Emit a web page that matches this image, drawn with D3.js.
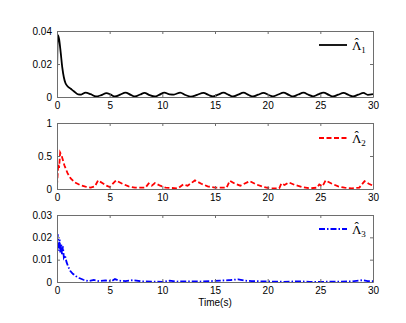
<!DOCTYPE html>
<html>
<head>
<meta charset="utf-8">
<script src="https://cdn.jsdelivr.net/npm/d3@7"></script>
<style>
  body { margin: 0; background: #fff; }
  text { font-family: "Liberation Sans", Arial, sans-serif; font-size: 10px; fill: #000; }
  .leg { font-family: "Liberation Serif", "Times New Roman", serif; font-size: 13px; font-style: normal; }
</style>
</head>
<body>
<script>
// time axis ticks
var xTicks = [0, 5, 10, 15, 20, 25, 30];

// panel 1 - Lambda hat 1
var time1 = [0,0.08,0.2,0.35,0.5,0.65,0.8,1.0,1.3,1.6,2.0,2.3,2.7,3.2,3.7,4.2,4.7,5.1,5.5,6.0,6.5,7.0,7.4,7.9,8.3,8.8,9.3,9.7,10.2,10.7,11.1,11.7,12.2,12.7,13.3,13.9,14.4,14.8,15.3,15.8,16.3,16.7,17.2,17.7,18.2,18.6,19.1,19.6,20.1,20.5,21.0,21.5,22.0,22.4,22.9,23.4,23.9,24.3,24.8,25.3,25.8,26.2,26.7,27.2,27.7,28.1,28.6,29.1,29.5,30];
var lambda1 = [0.012,0.0375,0.035,0.027,0.018,0.012,0.0085,0.0065,0.005,0.0035,0.0016,0.0015,0.0026,0.0017,0.0003,0.0011,0.0024,0.0014,0.0003,0.0014,0.0027,0.0013,0.0003,0.0015,0.0025,0.0011,0.0003,0.0013,0.0027,0.0016,0.0015,0.0027,0.0012,0.0002,0.0013,0.0025,0.0012,0.0003,0.0014,0.0026,0.0013,0.0003,0.0014,0.0026,0.0012,0.0003,0.0014,0.0025,0.0012,0.0004,0.0015,0.0027,0.0013,0.0003,0.0015,0.0026,0.0013,0.0004,0.0016,0.0027,0.0013,0.0003,0.0014,0.0025,0.0012,0.0003,0.0014,0.0025,0.0013,0.0018];
var yTicks1 = [0, 0.02, 0.04];

// panel 2 - Lambda hat 2
var time2 = [0,0.12,0.2,0.3,0.45,0.7,1.0,1.3,1.7,2.2,2.7,3.2,3.6,3.9,4.3,4.7,5.0,5.6,6.2,6.8,7.4,8.4,8.7,9.0,9.3,9.8,10.3,11.5,12.0,12.4,13.1,13.7,14.3,15.0,16.1,16.4,16.9,17.4,18.3,18.9,19.6,20.2,21.1,21.3,21.6,22.0,22.6,23.3,24.0,24.7,24.9,25.2,25.5,26.1,26.7,27.3,28.0,28.7,29.2,29.6,30];
var lambda2 = [0.05,0.38,0.32,0.55,0.5,0.36,0.24,0.16,0.1,0.06,0.035,0.02,0.04,0.13,0.09,0.05,0.03,0.13,0.08,0.04,0.02,0.02,0.085,0.05,0.09,0.05,0.02,0.01,0.07,0.05,0.13,0.08,0.04,0.02,0.02,0.125,0.08,0.05,0.12,0.07,0.03,0.01,0.01,0.085,0.06,0.1,0.06,0.03,0.01,0.02,0.07,0.04,0.13,0.08,0.04,0.02,0.01,0.02,0.12,0.08,0.05];
var yTicks2 = [0, 0.5, 1];

// panel 3 - Lambda hat 3
var time3 = [0,0.06,0.12,0.18,0.25,0.32,0.4,0.48,0.56,0.65,0.75,0.9,1.05,1.25,1.5,1.8,2.1,2.5,3.0,3.5,4.0,4.6,5.2,5.5,5.9,6.5,7.2,8.0,9.0,10.0,10.7,11.3,12.5,13.5,14.5,15.5,16.5,17.2,17.8,18.5,19.5,20.5,21.5,23.0,24.0,25.5,27.0,28.0,29.0,29.5,30];
var lambda3 = [0.015,0.0215,0.018,0.014,0.019,0.013,0.017,0.012,0.016,0.011,0.012,0.009,0.007,0.005,0.0037,0.0026,0.0018,0.001,0.0004,0.0009,0.0004,0.0007,0.0004,0.0013,0.0006,0.0004,0.0008,0.0003,0.0002,0.0001,0.0006,0.0002,0.0003,0.0002,0.0004,0.0006,0.0009,0.0012,0.0006,0.0004,0.0003,0.0002,0.0001,0.0003,0.0001,0.0001,0.0002,0.0003,0.0008,0.0004,0.0004];
var yTicks3 = [0, 0.01, 0.02, 0.03];

var width = 406, height = 323;
var left = 57, right = 373;

var panels = [
  {t: time1, v: lambda1, ymax: 0.04, ticks: yTicks1, top: 31, bottom: 97, color: "#000", dash: null, curve: d3.curveMonotoneX, sub: "1", legY: 45},
  {t: time2, v: lambda2, ymax: 1, ticks: yTicks2, top: 123, bottom: 189, color: "#ff0000", dash: "5,2.5", curve: d3.curveLinear, sub: "2", legY: 138},
  {t: time3, v: lambda3, ymax: 0.03, ticks: yTicks3, top: 215, bottom: 282, color: "#0000ff", dash: "6,2,1.5,2", curve: d3.curveLinear, sub: "3", legY: 229}
];

var svg = d3.select("body").append("svg")
  .attr("width", width).attr("height", height);
svg.append("rect").attr("width", width).attr("height", height).attr("fill", "#fff");

var x = d3.scaleLinear().domain([0, 30]).range([left, right]);

panels.forEach(function (p) {
  var y = d3.scaleLinear().domain([0, p.ymax]).range([p.bottom, p.top]);
  var g = svg.append("g");

  var pts = p.t.map(function (t, i) { return {t: t, v: p.v[i]}; });

  var clipId = "clip" + p.sub;
  g.append("clipPath").attr("id", clipId).append("rect")
    .attr("x", left).attr("y", p.top - 2).attr("width", right - left).attr("height", p.bottom - p.top + 2);

  g.append("path")
    .datum(pts)
    .attr("clip-path", "url(#" + clipId + ")")
    .attr("fill", "none")
    .attr("stroke", p.color)
    .attr("stroke-width", 1.8)
    .attr("stroke-dasharray", p.dash)
    .attr("d", d3.line().curve(p.curve).x(d => x(d.t)).y(d => y(d.v)));

  // box + ticks (inward, mirrored)
  var ax = "#6e6e6e";
  g.append("g").attr("transform", "translate(0," + p.bottom + ")")
    .call(d3.axisBottom(x).tickValues(xTicks).tickSize(-3).tickPadding(5).tickSizeOuter(0))
    .call(a => a.select(".domain").attr("stroke", ax))
    .call(a => a.selectAll("line").attr("stroke", ax))
    .call(a => a.selectAll("text").attr("font-size", 10).attr("font-family", null));
  g.append("g").attr("transform", "translate(0," + p.top + ")")
    .call(d3.axisTop(x).tickValues(xTicks).tickSize(-3).tickSizeOuter(0).tickFormat(""))
    .call(a => a.select(".domain").attr("stroke", ax))
    .call(a => a.selectAll("line").attr("stroke", ax));
  g.append("g").attr("transform", "translate(" + left + ",0)")
    .call(d3.axisLeft(y).tickValues(p.ticks).tickSize(-3).tickPadding(5).tickSizeOuter(0).tickFormat(d3.format("~g")))
    .call(a => a.select(".domain").attr("stroke", ax))
    .call(a => a.selectAll("line").attr("stroke", ax))
    .call(a => a.selectAll("text").attr("font-size", 10).attr("font-family", null));
  g.append("g").attr("transform", "translate(" + right + ",0)")
    .call(d3.axisRight(y).tickValues(p.ticks).tickSize(-3).tickSizeOuter(0).tickFormat(""))
    .call(a => a.select(".domain").attr("stroke", ax))
    .call(a => a.selectAll("line").attr("stroke", ax));

  // legend: Lambda with hat and subscript in one text
  g.append("line")
    .attr("x1", 319).attr("x2", 347).attr("y1", p.legY).attr("y2", p.legY)
    .attr("stroke", p.color).attr("stroke-width", 1.8).attr("stroke-dasharray", p.dash);
  var lt = g.append("text").attr("class", "leg").attr("x", 352).attr("y", p.legY + 5);
  lt.append("tspan").text("\u039B");
  lt.append("tspan").attr("dx", -6.9).attr("dy", -3).text("\u02C6");
  lt.append("tspan").attr("font-size", 9).attr("dx", 2.4).attr("dy", 6).text(p.sub);
});

svg.append("text")
  .attr("x", (left + right) / 2).attr("y", 306)
  .attr("text-anchor", "middle")
  .text("Time(s)");
</script>
</body>
</html>
